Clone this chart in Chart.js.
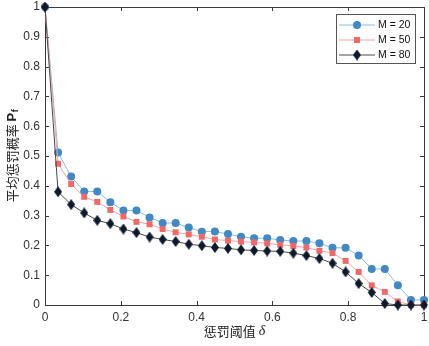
<!DOCTYPE html>
<html>
<head>
<meta charset="utf-8">
<script src="https://cdn.jsdelivr.net/npm/chart.js@4.4.1/dist/chart.umd.min.js"></script>
<style>
  html, body { margin: 0; padding: 0; background: #fff; }
  #wrap { width: 429px; height: 346px; }
</style>
</head>
<body>
<div id="wrap"><canvas id="chart"></canvas></div>
<script>
// penalty threshold delta (x) and mean penalty probability for each M
const delta = [0, 0.0345, 0.0690, 0.1034, 0.1379, 0.1724, 0.2069, 0.2414, 0.2759, 0.3103,
  0.3448, 0.3793, 0.4138, 0.4483, 0.4828, 0.5172, 0.5517, 0.5862, 0.6207, 0.6552,
  0.6897, 0.7241, 0.7586, 0.7931, 0.8276, 0.8621, 0.8966, 0.9310, 0.9655, 1];
const m20 = [1.0, 0.512, 0.431, 0.381, 0.381, 0.345, 0.317, 0.317, 0.294, 0.275,
  0.275, 0.260, 0.246, 0.247, 0.238, 0.229, 0.224, 0.224, 0.218, 0.215,
  0.215, 0.207, 0.192, 0.192, 0.166, 0.121, 0.121, 0.066, 0.017, 0.017];
const m50 = [1.0, 0.474, 0.406, 0.363, 0.346, 0.319, 0.297, 0.279, 0.271, 0.255,
  0.244, 0.237, 0.229, 0.220, 0.216, 0.213, 0.210, 0.207, 0.202, 0.198,
  0.193, 0.182, 0.174, 0.148, 0.111, 0.066, 0.044, 0.012, 0, 0];
const m80 = [1.0, 0.380, 0.337, 0.309, 0.284, 0.273, 0.255, 0.243, 0.228, 0.220,
  0.213, 0.204, 0.199, 0.193, 0.190, 0.185, 0.183, 0.181, 0.180, 0.174,
  0.166, 0.156, 0.140, 0.111, 0.072, 0.042, 0.005, 0, 0, 0];
const seriesNames = ["M = 20", "M = 50", "M = 80"];
const xTitle = "惩罚阈值 ";
const yTitle = "平均惩罚概率 ";

// thin diamond marker like MATLAB's 'd'
function diamond(w, h, color) {
  const c = document.createElement("canvas");
  c.width = w; c.height = h;
  const g = c.getContext("2d");
  g.fillStyle = color;
  g.beginPath();
  g.moveTo(w / 2, 0); g.lineTo(w, h / 2); g.lineTo(w / 2, h); g.lineTo(0, h / 2);
  g.closePath();
  g.fill();
  return c;
}

const toPts = ys => ys.map((y, i) => ({ x: delta[i], y }));
const axisColor = "#3a3a3a";
const tickFont = { family: "'Liberation Sans', Arial, sans-serif", size: 12 };
const fmt = v => String(+(+v).toFixed(2));

// box with inward ticks on all four sides, plus axis titles and legend
const matlabAxes = {
  id: "matlabAxes",
  beforeDatasetsDraw(chart) {
    const { ctx, chartArea: a, scales } = chart;
    ctx.save();
    ctx.strokeStyle = axisColor;
    ctx.lineWidth = 1;
    ctx.strokeRect(Math.round(a.left) + 0.5, Math.round(a.top) + 0.5,
      Math.round(a.right - a.left), Math.round(a.bottom - a.top));
    const tl = 4;
    ctx.beginPath();
    scales.x.ticks.forEach(t => {
      const px = Math.round(scales.x.getPixelForValue(t.value)) + 0.5;
      ctx.moveTo(px, a.bottom); ctx.lineTo(px, a.bottom - tl);
      ctx.moveTo(px, a.top); ctx.lineTo(px, a.top + tl);
    });
    scales.y.ticks.forEach(t => {
      const py = Math.round(scales.y.getPixelForValue(t.value)) + 0.5;
      ctx.moveTo(a.left, py); ctx.lineTo(a.left + tl, py);
      ctx.moveTo(a.right, py); ctx.lineTo(a.right - tl, py);
    });
    ctx.stroke();
    ctx.restore();
  },
  afterDraw(chart) {
    const { ctx, chartArea: a } = chart;
    ctx.save();
    ctx.fillStyle = "#222";
    ctx.textBaseline = "middle";

    // x title
    const cjk = "13px 'Noto Sans CJK SC', sans-serif";
    const greek = "italic 14px 'Liberation Serif', serif";
    ctx.font = cjk;
    const w1 = ctx.measureText(xTitle).width;
    ctx.font = greek;
    const w2 = ctx.measureText("δ").width;
    let x0 = (a.left + a.right) / 2 - (w1 + w2) / 2;
    ctx.textAlign = "left";
    ctx.font = cjk;
    ctx.fillText(xTitle, x0, 331);
    ctx.font = greek;
    ctx.fillText("δ", x0 + w1, 331);

    // y title, rotated
    ctx.save();
    ctx.translate(12, (a.top + a.bottom) / 2);
    ctx.rotate(-Math.PI / 2);
    const pFont = "bold 13px 'Liberation Sans', Arial, sans-serif";
    const fFont = "bold 9px 'Liberation Sans', Arial, sans-serif";
    ctx.font = cjk;
    const t1 = ctx.measureText(yTitle).width;
    ctx.font = pFont;
    const t2 = ctx.measureText("P").width;
    ctx.font = fFont;
    const t3 = ctx.measureText("f").width;
    let s = -(t1 + t2 + t3) / 2;
    ctx.font = cjk;
    ctx.fillText(yTitle, s, 0);
    ctx.font = pFont;
    ctx.fillText("P", s + t1, 0);
    ctx.font = fFont;
    ctx.fillText("f", s + t1 + t2 + 0.5, 4);
    ctx.restore();

    // legend
    const lx = 336, ly = 14, lw = 79, lh = 49;
    ctx.fillStyle = "#fff";
    ctx.fillRect(lx, ly, lw, lh);
    ctx.strokeStyle = "#555";
    ctx.lineWidth = 1;
    ctx.strokeRect(lx + 0.5, ly + 0.5, lw, lh);
    const rows = [25, 40, 55];
    chart.data.datasets.forEach((ds, i) => {
      const y = rows[i];
      ctx.strokeStyle = ds.borderColor;
      ctx.lineWidth = 1;
      ctx.beginPath();
      ctx.moveTo(339, y); ctx.lineTo(375, y);
      ctx.stroke();
      ctx.fillStyle = ds.pointBackgroundColor;
      Chart.helpers.drawPoint(ctx, { pointStyle: ds.pointStyle, radius: ds.pointRadius, rotation: 0, borderWidth: 0 }, 357, y);
      ctx.fillStyle = "#111";
      ctx.font = "10.5px 'Liberation Sans', Arial, sans-serif";
      ctx.textAlign = "left";
      ctx.fillText(ds.label, 378, y + 0.5);
    });
    ctx.restore();
  }
};

new Chart(document.getElementById("chart"), {
  type: "line",
  data: {
    datasets: [
      {
        label: seriesNames[0],
        data: toPts(m20),
        borderColor: "#86bde0",
        borderWidth: 1,
        pointStyle: "circle",
        pointRadius: 4,
        pointBackgroundColor: "#4189c2",
        pointBorderWidth: 0,
        order: 3
      },
      {
        label: seriesNames[1],
        data: toPts(m50),
        borderColor: "#f4a4a4",
        borderWidth: 1,
        pointStyle: "rect",
        pointRadius: 4.2,
        pointBackgroundColor: "#f06868",
        pointBorderWidth: 0,
        order: 2
      },
      {
        label: seriesNames[2],
        data: toPts(m80),
        borderColor: "#4a4a4a",
        borderWidth: 1,
        pointStyle: diamond(8, 11, "#0e1a2b"),
        pointRadius: 5,
        pointBackgroundColor: "#0e1a2b",
        pointBorderWidth: 0,
        order: 1
      }
    ]
  },
  options: {
    responsive: true,
    maintainAspectRatio: false,
    animation: false,
    clip: false,
    layout: { padding: { top: 7, right: 5, left: 0, bottom: 0 } },
    plugins: { legend: { display: false }, tooltip: { enabled: false } },
    elements: { line: { tension: 0 } },
    scales: {
      x: {
        type: "linear",
        min: 0, max: 1,
        grid: { display: false, drawTicks: false },
        border: { display: false },
        ticks: { stepSize: 0.2, padding: 5, color: "#333", font: tickFont, maxRotation: 0, callback: fmt },
        afterFit(s) { s.height = 41; s.paddingLeft = 0; s.paddingRight = 0; }
      },
      y: {
        min: 0, max: 1,
        grid: { display: false, drawTicks: false },
        border: { display: false },
        ticks: { stepSize: 0.1, padding: 5, color: "#333", font: tickFont, callback: fmt },
        afterFit(s) { s.width = 45; s.paddingTop = 0; s.paddingBottom = 0; }
      }
    }
  },
  plugins: [matlabAxes]
});
</script>
</body>
</html>
